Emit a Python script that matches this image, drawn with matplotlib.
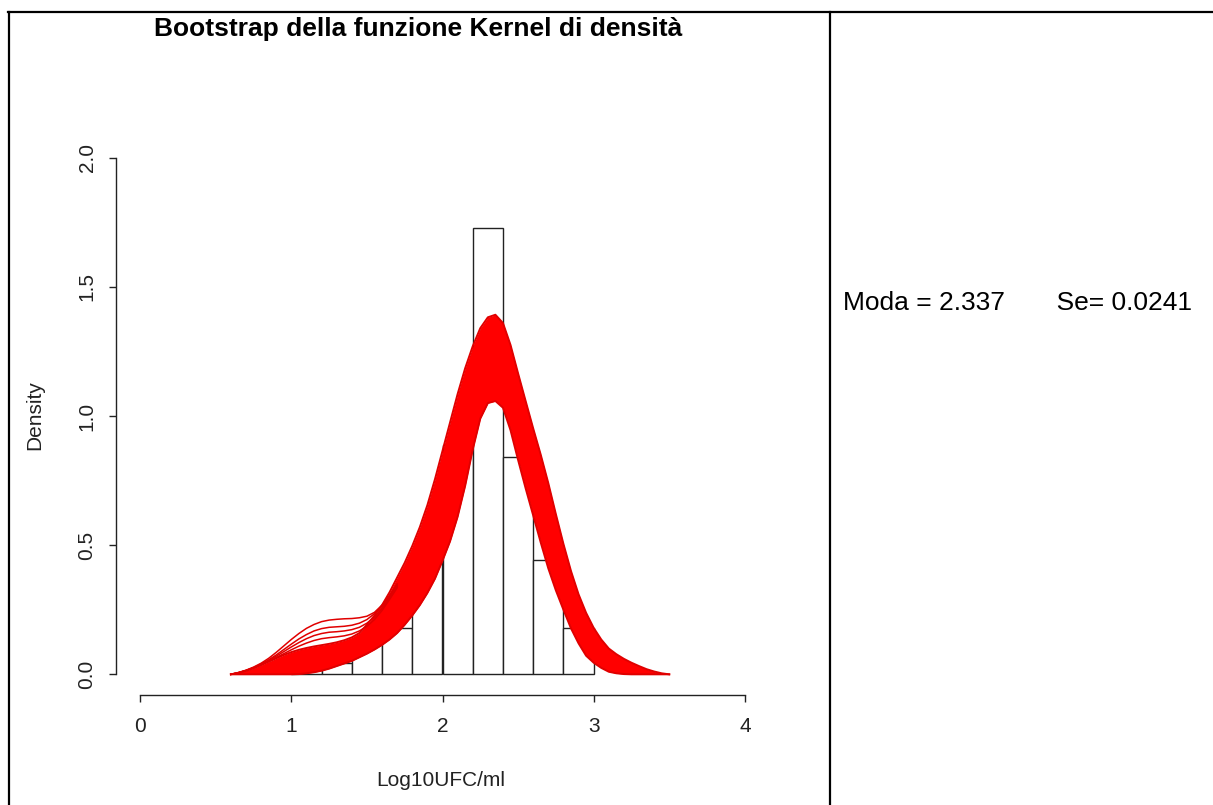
import matplotlib
matplotlib.use("Agg")
import matplotlib.pyplot as plt
from matplotlib import font_manager
from matplotlib.lines import Line2D

# --- data ---
bin_edges = [1.0, 1.2, 1.4, 1.6, 1.8, 2.0, 2.2, 2.4, 2.6, 2.8, 3.0]
bin_density = [0.044, 0.044, 0.133, 0.180, 0.443, 0.887, 1.726, 0.842, 0.443, 0.180]

# grid for the bootstrap kernel band
grid_x = [0.60, 0.65, 0.70, 0.75, 0.80, 0.85, 0.90, 0.95, 1.00, 1.05,
          1.10, 1.15, 1.20, 1.25, 1.30, 1.35, 1.40, 1.45, 1.50, 1.55,
          1.60, 1.65, 1.70, 1.75, 1.80, 1.85, 1.90, 1.95, 2.00, 2.05,
          2.10, 2.15, 2.20, 2.25, 2.30, 2.35, 2.40, 2.45, 2.50, 2.55,
          2.60, 2.65, 2.70, 2.75, 2.80, 2.85, 2.90, 2.95, 3.00, 3.05,
          3.10, 3.15, 3.20, 3.25, 3.30, 3.35, 3.40, 3.45, 3.50]
band_upper = [0.000, 0.006, 0.014, 0.024, 0.036, 0.049, 0.062, 0.075, 0.086, 0.095,
              0.102, 0.108, 0.113, 0.118, 0.124, 0.132, 0.143, 0.160, 0.192, 0.228,
              0.268, 0.318, 0.375, 0.432, 0.497, 0.570, 0.655, 0.755, 0.865, 0.975,
              1.085, 1.185, 1.270, 1.340, 1.382, 1.392, 1.360, 1.275, 1.165, 1.058,
              0.952, 0.850, 0.740, 0.620, 0.505, 0.400, 0.310, 0.238, 0.180, 0.135,
              0.100, 0.078, 0.060, 0.045, 0.032, 0.020, 0.011, 0.004, 0.000]
band_lower = [0.000, 0.000, 0.000, 0.000, 0.000, 0.000, 0.000, 0.000, 0.000, 0.001,
              0.004, 0.008, 0.014, 0.022, 0.032, 0.042, 0.052, 0.066, 0.080, 0.096,
              0.114, 0.135, 0.160, 0.192, 0.228, 0.268, 0.315, 0.370, 0.440, 0.515,
              0.610, 0.730, 0.870, 0.990, 1.050, 1.058, 1.032, 0.945, 0.830, 0.720,
              0.615, 0.510, 0.410, 0.325, 0.250, 0.178, 0.120, 0.072, 0.045, 0.025,
              0.010, 0.004, 0.001, 0.000, 0.000, 0.000, 0.000, 0.000, 0.000]

# curves with the secondary bump near 1.3 (left part only, rest is inside the band)
bump_x = grid_x[:23]
bump_curves = [
    [0.000, 0.007, 0.016, 0.028, 0.043, 0.062, 0.085, 0.110, 0.135, 0.158, 0.178, 0.193,
     0.204, 0.210, 0.213, 0.215, 0.216, 0.219, 0.225, 0.240, 0.268, 0.305, 0.350],
    [0.000, 0.006, 0.015, 0.026, 0.040, 0.056, 0.075, 0.096, 0.117, 0.137, 0.154, 0.168,
     0.177, 0.182, 0.184, 0.186, 0.190, 0.198, 0.212, 0.235, 0.265, 0.302, 0.345],
    [0.000, 0.006, 0.014, 0.025, 0.038, 0.053, 0.070, 0.088, 0.106, 0.123, 0.138, 0.150,
     0.158, 0.163, 0.165, 0.168, 0.173, 0.182, 0.198, 0.222, 0.255, 0.295, 0.340],
    [0.000, 0.006, 0.014, 0.024, 0.036, 0.050, 0.065, 0.080, 0.095, 0.109, 0.121, 0.131,
     0.138, 0.142, 0.145, 0.149, 0.156, 0.168, 0.186, 0.212, 0.247, 0.290, 0.335],
]

title = "Bootstrap della funzione Kernel di densità"
xlabel = "Log10UFC/ml"
ylabel = "Density"
x_ticks = [0, 1, 2, 3, 4]
y_ticks = [0.0, 0.5, 1.0, 1.5, 2.0]
side_text = "Moda = 2.337       Se= 0.0241"

# fonts
names = {f.name for f in font_manager.fontManager.ttflist}
r_font = ["Liberation Sans Narrow"] if "Liberation Sans Narrow" in names else []
r_font = r_font + ["Liberation Sans", "DejaVu Sans"]
plt.rcParams["font.family"] = ["Liberation Sans", "DejaVu Sans"]

W, H = 1213, 805
fig = plt.figure(figsize=(W / 100, H / 100), dpi=100)

# table cell borders
def hline(y, x0, x1):
    fig.add_artist(Line2D([x0 / W, x1 / W], [1 - y / H, 1 - y / H], color="black", lw=1.6))

def vline(x, y0, y1):
    fig.add_artist(Line2D([x / W, x / W], [1 - y0 / H, 1 - y1 / H], color="black", lw=1.6))

hline(12, 8, W)
vline(9, 12, H)
vline(830, 12, H)

# R plot region
ax = fig.add_axes([116 / W, 1 - 695 / H, (769 - 116) / W, (695 - 137) / H])
ax.set_xlim(-0.16, 4.16)
ax.set_ylim(-0.08, 2.08)

widths = [bin_edges[i + 1] - bin_edges[i] for i in range(len(bin_density))]
ax.bar(bin_edges[:-1], bin_density, width=widths, align="edge",
       facecolor="white", edgecolor="#222222", linewidth=1.0, zorder=1)

ax.fill_between(grid_x, band_lower, band_upper, color="#ff0000", linewidth=0, zorder=2)
ax.plot(grid_x, band_upper, color="#e00000", lw=1.4, zorder=3)
ax.plot(grid_x, band_lower, color="#e00000", lw=1.4, zorder=3)
for c in bump_curves:
    ax.plot(bump_x, c, color="#e00000", lw=1.1, zorder=3)

for s in ["top", "right"]:
    ax.spines[s].set_visible(False)
ax.spines["left"].set_bounds(0, 2)
ax.spines["bottom"].set_bounds(0, 4)
for s in ["left", "bottom"]:
    ax.spines[s].set_color("#222222")
    ax.spines[s].set_linewidth(1.0)

ax.set_xticks(x_ticks)
ax.set_xticklabels([str(t) for t in x_ticks], family=r_font, fontsize=15, color="#222222")
ax.set_yticks(y_ticks)
ax.set_yticklabels(["%.1f" % t for t in y_ticks], family=r_font, fontsize=15,
                   rotation=90, va="center", color="#222222")
ax.tick_params(direction="out", length=5, width=1.0, color="#222222")
ax.tick_params(axis="x", pad=11)
ax.tick_params(axis="y", pad=9)

fig.text(441 / W, 1 - 780 / H, xlabel, family=r_font, fontsize=15, color="#222222",
         ha="center", va="center")
fig.text(35 / W, 1 - 415 / H, ylabel, family=r_font, fontsize=15, color="#222222",
         ha="center", va="center", rotation=90)

fig.text(418 / W, 1 - 36 / H, title, fontsize=19, fontweight="bold",
         ha="center", va="baseline")
fig.text(843 / W, 1 - 310 / H, side_text, fontsize=19, ha="left", va="baseline")

fig.savefig("out.png", dpi=100)
